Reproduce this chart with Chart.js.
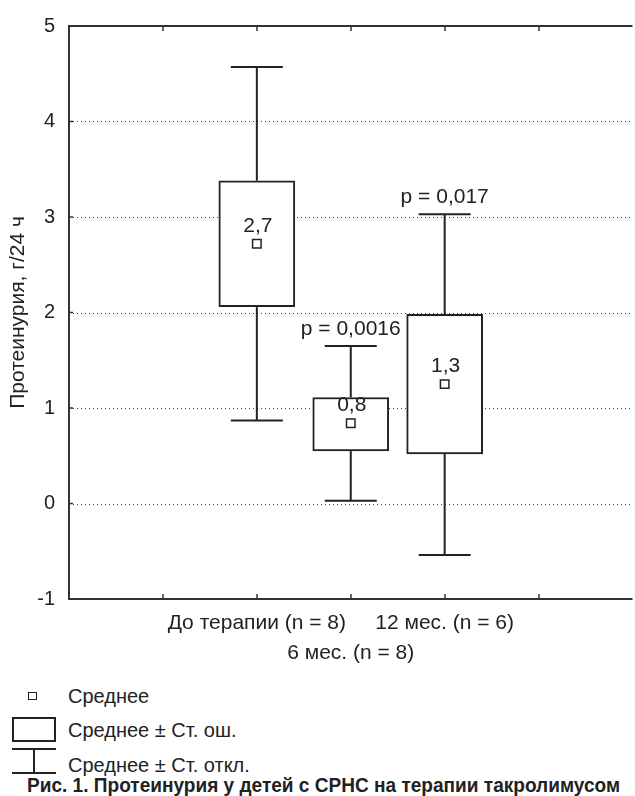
<!DOCTYPE html>
<html>
<head>
<meta charset="utf-8">
<script src="https://cdn.jsdelivr.net/npm/chart.js@4"></script>
<style>
    body { margin: 0; overflow: hidden; background: #fff; font-family: 'Liberation Sans', Arial, sans-serif; color: #222; }
    #wrap { position: relative; width: 640px; height: 796px; }
    canvas { position: absolute; left: 0; top: 0; }
    .lg-text { position: absolute; left: 68px; font-size: 20px; line-height: 24px; white-space: nowrap; }
    .lg-mean { position: absolute; left: 28px; top: 692px; width: 9px; height: 8px; border: 1.5px solid #222; box-sizing: border-box; }
    .lg-box { position: absolute; left: 12px; top: 717px; width: 44px; height: 25px; border: 2px solid #222; box-sizing: border-box; }
    .lg-whisk { position: absolute; left: 12px; top: 747px; }
    #caption { position: absolute; left: 27px; top: 773px; font-family: 'Liberation Sans Narrow', 'Liberation Sans', Arial, sans-serif; font-weight: bold; font-size: 20px; line-height: 24px; white-space: nowrap; transform-origin: left center; }
</style>
</head>
<body>
<div id="wrap">
    <canvas id="chart" width="640" height="670"></canvas>
    <div class="lg-mean"></div>
    <div class="lg-text" style="top: 684px;">Среднее</div>
    <div class="lg-box"></div>
    <div class="lg-text" style="top: 718px;">Среднее ± Ст. ош.</div>
    <svg class="lg-whisk" width="44" height="28">
        <line x1="0" y1="2" x2="44" y2="2" stroke="#222" stroke-width="2"/>
        <line x1="22" y1="2" x2="22" y2="26" stroke="#222" stroke-width="2"/>
        <line x1="0" y1="26" x2="44" y2="26" stroke="#222" stroke-width="2"/>
    </svg>
    <div class="lg-text" style="top: 753px;">Среднее ± Ст. откл.</div>
    <div id="caption">Рис. 1. Протеинурия у детей с СРНС на терапии такролимусом</div>
</div>
<script>
const categories = ['До терапии (n = 8)', '6 мес. (n = 8)', '12 мес. (n = 6)'];
const means = [2.72, 0.84, 1.25];
const seLow = [2.06, 0.55, 0.52];
const seHigh = [3.38, 1.11, 1.98];
const sdLow = [0.87, 0.03, -0.54];
const sdHigh = [4.57, 1.65, 3.03];
const meanLabels = ['2,7', '0,8', '1,3'];
const pLabels = ['', 'p = 0,0016', 'p = 0,017'];
const yTicks = [-1, 0, 1, 2, 3, 4, 5];
const gridValues = [0, 1, 2, 3, 4];

// two empty slots on each side, like the original axis
const pad = ['', ''];
const labels = pad.concat(categories, pad);
const firstIdx = pad.length;

function padded(arr) {
    return [null, null].concat(arr, [null, null]);
}

const FONT = "'Liberation Sans', Arial, sans-serif";
const INK = '#222';

function line(ctx, x1, y1, x2, y2) {
    ctx.beginPath();
    ctx.moveTo(x1, y1);
    ctx.lineTo(x2, y2);
    ctx.stroke();
}

const boxDecor = {
    id: 'boxDecor',
    beforeDatasetsDraw(chart) {
        const { ctx, chartArea: a, scales: { x, y } } = chart;
        ctx.save();
        // dotted grid
        ctx.strokeStyle = '#444';
        ctx.lineWidth = 1;
        ctx.setLineDash([1, 3]);
        gridValues.forEach(v => {
            const py = Math.round(y.getPixelForValue(v)) + 0.5;
            line(ctx, a.left, py, a.right, py);
        });
        ctx.setLineDash([]);

        // whiskers (mean ± SD)
        ctx.strokeStyle = INK;
        ctx.lineWidth = 2;
        categories.forEach((c, i) => {
            const px = x.getPixelForValue(firstIdx + i);
            const top = y.getPixelForValue(sdHigh[i]);
            const bot = y.getPixelForValue(sdLow[i]);
            line(ctx, px, y.getPixelForValue(seHigh[i]), px, top);
            line(ctx, px, y.getPixelForValue(seLow[i]), px, bot);
            line(ctx, px - 26, top, px + 26, top);
            line(ctx, px - 26, bot, px + 26, bot);
        });
        ctx.restore();
    },
    afterDraw(chart) {
        const { ctx, chartArea: a, scales: { x, y } } = chart;
        ctx.save();
        ctx.strokeStyle = '#333';
        ctx.lineWidth = 2;
        line(ctx, a.left, a.top, a.right, a.top);
        line(ctx, a.left, a.bottom, a.right, a.bottom);
        line(ctx, a.left, a.top - 1, a.left, a.bottom + 1);

        // inside tick marks
        ctx.lineWidth = 1.5;
        for (let i = 1; i < labels.length - 1; i++) {
            const px = Math.round(x.getPixelForValue(i));
            line(ctx, px, a.top, px, a.top + 5);
            line(ctx, px, a.bottom, px, a.bottom - 5);
        }
        yTicks.forEach(v => {
            const py = y.getPixelForValue(v);
            line(ctx, a.left, py, a.left + 4, py);
        });

        ctx.fillStyle = INK;
        ctx.font = '21px ' + FONT;
        ctx.textAlign = 'center';
        ctx.textBaseline = 'middle';

        // staggered category labels
        categories.forEach((c, i) => {
            const px = x.getPixelForValue(firstIdx + i);
            const row = i % 2;
            ctx.fillText(c, px, a.bottom + 24 + row * 30);
        });

        // value labels
        categories.forEach((c, i) => {
            const px = x.getPixelForValue(firstIdx + i);
            ctx.fillText(meanLabels[i], px + 1, y.getPixelForValue(means[i]) - 18);
            if (pLabels[i]) {
                ctx.fillText(pLabels[i], px, y.getPixelForValue(sdHigh[i]) - 17);
            }
        });
        ctx.restore();
    }
};

new Chart(document.getElementById('chart'), {
    data: {
        labels: labels,
        datasets: [
            {
                type: 'bar',
                order: 2,
                data: padded(categories.map((c, i) => [seLow[i], seHigh[i]])),
                backgroundColor: '#ffffff',
                borderColor: INK,
                borderWidth: 2,
                borderSkipped: false,
                barThickness: 76
            },
            {
                type: 'line',
                order: 1,
                data: padded(means),
                showLine: false,
                pointStyle: 'rect',
                pointRadius: 6,
                pointBackgroundColor: '#ffffff',
                pointBorderColor: INK,
                pointBorderWidth: 1.5
            }
        ]
    },
    options: {
        responsive: false,
        animation: false,
        layout: { padding: { top: 21, left: 0, right: 0, bottom: 0 } },
        plugins: {
            legend: { display: false },
            tooltip: { enabled: false }
        },
        scales: {
            x: {
                type: 'category',
                offset: false,
                grid: { display: false, drawTicks: false },
                border: { display: false },
                ticks: { display: false },
                afterFit: scale => { scale.height = 71; }
            },
            y: {
                min: -1,
                max: 5,
                grid: { display: false, drawTicks: false },
                border: { display: false },
                afterBuildTicks: scale => {
                    scale.ticks = yTicks.map(v => ({ value: v }));
                },
                ticks: {
                    color: INK,
                    padding: 14,
                    font: { family: FONT, size: 20 }
                },
                title: {
                    display: true,
                    text: 'Протеинурия, г/24 ч',
                    color: INK,
                    font: { family: FONT, size: 21 },
                    padding: { top: 6, bottom: 0 }
                },
                afterFit: scale => { scale.width = 69; }
            }
        }
    },
    plugins: [boxDecor]
});

// fit caption to the width it has in the figure
const cap = document.getElementById('caption');
const w = cap.getBoundingClientRect().width;
cap.style.transform = 'scaleX(' + (593 / w) + ')';
</script>
</body>
</html>
